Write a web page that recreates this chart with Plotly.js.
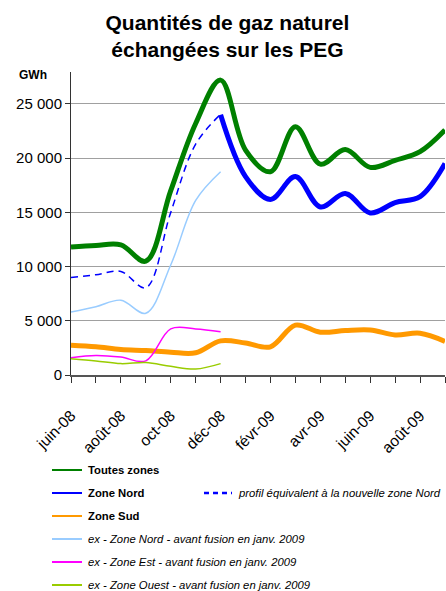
<!DOCTYPE html>
<html>
<head>
<meta charset="utf-8">
<script src="https://cdn.plot.ly/plotly-3.0.1.min.js"></script>
<style>html,body{margin:0;padding:0;background:#fff;}#chart{width:446px;height:591px;}</style>
</head>
<body>
<div id="chart"></div>
<script>
// ---- Data ----
const months = ["juin-08","juil-08","août-08","sept-08","oct-08","nov-08","déc-08","janv-09","févr-09","mars-09","avr-09","mai-09","juin-09","juil-09","août-09","sept-09"];
const tickLabels = ["juin-08","","août-08","","oct-08","","déc-08","","févr-09","","avr-09","","juin-09","","août-09",""];
const monthsBeforeFusion = months.slice(0, 7);
const monthsAfterFusion = months.slice(6);

const toutesZones = [11800, 11950, 12000, 10500, 17000, 23200, 27200, 20750, 18750, 22900, 19450, 20800, 19150, 19800, 20600, 22600];
const zoneNord = [24000, 18300, 16200, 18300, 15500, 16750, 14950, 15900, 16450, 19500];
const zoneSud = [2750, 2600, 2350, 2250, 2100, 2050, 3150, 2950, 2600, 4600, 3950, 4100, 4150, 3700, 3850, 3100];
const profilNord = [9000, 9250, 9550, 8050, 15000, 21300, 24050];
const exNord = [5800, 6300, 6900, 5700, 10150, 16100, 18750];
const exEst = [1600, 1800, 1650, 1300, 4250, 4250, 4000];
const exOuest = [1500, 1300, 1050, 1150, 800, 550, 1050];

const yTicks = [0, 5000, 10000, 15000, 20000, 25000];
const yTickText = ["0", "5 000", "10 000", "15 000", "20 000", "25 000"];

const seriesNames = ["Toutes zones", "Zone Nord", "Zone Sud", "ex - Zone Nord - avant fusion en janv. 2009", "ex - Zone Est - avant fusion en janv. 2009", "ex - Zone Ouest - avant fusion en janv. 2009"];
const dashedName = "profil équivalent à la nouvelle zone Nord";

// ---- Styles ----
const cGreen = "#008000", cBlue = "#0000FF", cOrange = "#FF9900", cLBlue = "#99CCFF", cMag = "#FF00FF", cYG = "#99CC00";
const FONT = "Liberation Sans, Arial, sans-serif";
const NB = "\u00a0";

function tr(x, y, color, width, dash, name) {
  return {x: x, y: y, type: "scatter", mode: "lines", name: name,
    line: {color: color, width: width, shape: "spline", smoothing: 1, dash: dash || "solid"},
    showlegend: false, hoverinfo: "skip"};
}

const data = [
  tr(months, toutesZones, cGreen, 5, null, seriesNames[0]),
  tr(monthsAfterFusion, zoneNord, cBlue, 5, null, seriesNames[1]),
  tr(months, zoneSud, cOrange, 5, null, seriesNames[2]),
  tr(monthsBeforeFusion, profilNord, cBlue, 1.5, "7px,5px", dashedName),
  tr(monthsBeforeFusion, exNord, cLBlue, 1.5, null, seriesNames[3]),
  tr(monthsBeforeFusion, exEst, cMag, 1.5, null, seriesNames[4]),
  tr(monthsBeforeFusion, exOuest, cYG, 1.5, null, seriesNames[5])
];

// ---- Layout helpers (pixel -> paper) ----
const L = 71, R = 1, T = 72, B = 216, W = 446, H = 591;
const pw = W - L - R, ph = H - T - B;
const px = p => (p - L) / pw;
const py = p => (H - B - p) / ph;

const shapes = [], annotations = [];
const legendRows = [
  {name: seriesNames[0], color: cGreen, y: 470, bold: true},
  {name: seriesNames[1], color: cBlue, y: 493, bold: true},
  {name: seriesNames[2], color: cOrange, y: 516, bold: true},
  {name: seriesNames[3], color: cLBlue, y: 539, bold: false},
  {name: seriesNames[4], color: cMag, y: 562, bold: false},
  {name: seriesNames[5], color: cYG, y: 585, bold: false}
];
legendRows.forEach(r => {
  shapes.push({type: "line", xref: "paper", yref: "paper", x0: px(52), x1: px(82), y0: py(r.y), y1: py(r.y),
    line: {color: r.color, width: 2}});
  annotations.push({xref: "paper", yref: "paper", x: px(86), y: py(r.y), xanchor: "left", yanchor: "middle",
    text: r.bold ? "<b>" + r.name + "</b>" : "<i>" + r.name + "</i>", showarrow: false,
    font: {family: FONT, size: 11.3, color: "#000"}});
});
shapes.push({type: "line", xref: "paper", yref: "paper", x0: px(204), x1: px(232), y0: py(493), y1: py(493),
  line: {color: cBlue, width: 2.5, dash: "5px,4px"}});
annotations.push({xref: "paper", yref: "paper", x: px(236), y: py(493), xanchor: "left", yanchor: "middle",
  text: "<i>" + dashedName + "</i>", showarrow: false,
  font: {family: FONT, size: 11.3, color: "#000"}});
annotations.push({xref: "paper", yref: "paper", x: px(33), y: py(75), xanchor: "center", yanchor: "middle",
  text: "<b>GWh</b>", showarrow: false,
  font: {family: FONT, size: 12, color: "#000"}});

const layout = {
  width: W, height: H,
  margin: {l: L, r: R, t: T, b: B, pad: 0},
  paper_bgcolor: "#fff", plot_bgcolor: "#fff",
  font: {family: FONT, color: "#000"},
  title: {text: "<b>Quantités de gaz naturel<br>échangées sur les PEG</b>",
    font: {size: 21, family: FONT, color: "#000"},
    x: 0.51, xanchor: "center", y: 0.95, yanchor: "top", yref: "container"},
  xaxis: {type: "category", range: [0, months.length - 1], tickmode: "array", tickvals: months, ticktext: tickLabels,
    ticksuffix: NB + NB + NB,
    tickangle: -45, ticks: "outside", ticklen: 6, tickcolor: "#333", tickwidth: 1, ticklabelstandoff: 18,
    showline: true, linecolor: "#555", linewidth: 1.5, showgrid: false, zeroline: false,
    tickfont: {size: 15.5, color: "#000"}},
  yaxis: {range: [0, 27950], tickmode: "array", tickvals: yTicks, ticktext: yTickText,
    ticksuffix: NB + NB,
    ticks: "outside", ticklen: 5, tickcolor: "#333", showline: true, linecolor: "#333", linewidth: 1,
    showgrid: true, gridcolor: "#a0a0a0", gridwidth: 1, zeroline: false,
    tickfont: {size: 15, color: "#000"}},
  shapes: shapes,
  annotations: annotations,
  showlegend: false
};

Plotly.newPlot("chart", data, layout, {staticPlot: true, displayModeBar: false});
</script>
</body>
</html>
